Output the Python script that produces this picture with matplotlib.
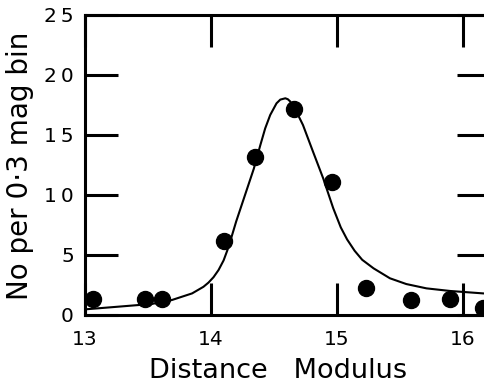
import matplotlib
matplotlib.use("Agg")
import matplotlib.pyplot as plt

# Observed counts per 0.3 mag bin
dm_obs = [13.06, 13.48, 13.61, 14.10, 14.35, 14.66, 14.96, 15.23, 15.59, 15.90, 16.16]
n_obs = [1.3, 1.3, 1.3, 6.2, 13.2, 17.2, 11.1, 2.25, 1.25, 1.3, 0.6]

# Model curve
dm_fit = [13.00, 13.26, 13.53, 13.69, 13.85, 13.94, 13.98, 14.02, 14.06, 14.10,
          14.13, 14.16, 14.20, 14.27, 14.34, 14.39, 14.43, 14.47, 14.52, 14.55,
          14.59, 14.61, 14.63, 14.68, 14.73, 14.81, 14.89, 14.97, 15.03, 15.08,
          15.14, 15.20, 15.29, 15.42, 15.55, 15.71, 15.90, 16.16, 16.22]
n_fit = [0.47, 0.69, 0.92, 1.25, 1.8, 2.35, 2.7, 3.15, 3.75, 4.55,
         5.4, 6.4, 7.8, 10.0, 12.2, 14.1, 15.55, 16.67, 17.64, 17.95,
         18.06, 17.98, 17.78, 16.9, 15.83, 13.6, 11.4, 8.9, 7.3, 6.3,
         5.35, 4.6, 3.89, 3.06, 2.58, 2.22, 2.0, 1.8, 1.77]

xticks = [13, 14, 15, 16]
xticklabels = ["13", "14", "15", "16"]
yticks = [0, 5, 10, 15, 20, 25]
yticklabels = ["0", "5", "1\u20090", "1\u20095", "2\u20090", "2\u20095"]

W, H = 484, 386
fig = plt.figure(figsize=(W / 100, H / 100), dpi=100)
x0, x1 = 85, 490
y0, y1 = 315, 15
ax = fig.add_axes([x0 / W, (H - y0) / H, (x1 - x0) / W, (y0 - y1) / H])

ax.plot(dm_fit, n_fit, color="black", lw=1.5, solid_joinstyle="round")
ax.plot(dm_obs, n_obs, "o", color="black", ms=11.5, clip_on=True)

ax.set_xlim(13, 13 + (x1 - x0) / 126)
ax.set_ylim(0, 25)

for s in ["left", "bottom", "top"]:
    ax.spines[s].set_linewidth(2.2)
ax.spines["right"].set_visible(False)

ax.set_xticks(xticks)
ax.set_xticklabels(xticklabels, fontsize=14.5)
ax.set_yticks(yticks)
ax.set_yticklabels(yticklabels, fontsize=14.5)
ax.tick_params(axis="x", direction="in", length=23, width=2.2, pad=11,
               top=True, bottom=True)
ax.tick_params(axis="y", direction="in", length=24, width=2.2, pad=8,
               left=True, right=True)

fig.text(278 / W, 2 / H, "Distance   Modulus", ha="center", va="bottom", fontsize=19.5)
fig.text(20 / W, (H - 166) / H, "No per 0\u00b73 mag bin", ha="center", va="center",
         rotation=90, fontsize=20)

fig.savefig("out.png", dpi=100)
